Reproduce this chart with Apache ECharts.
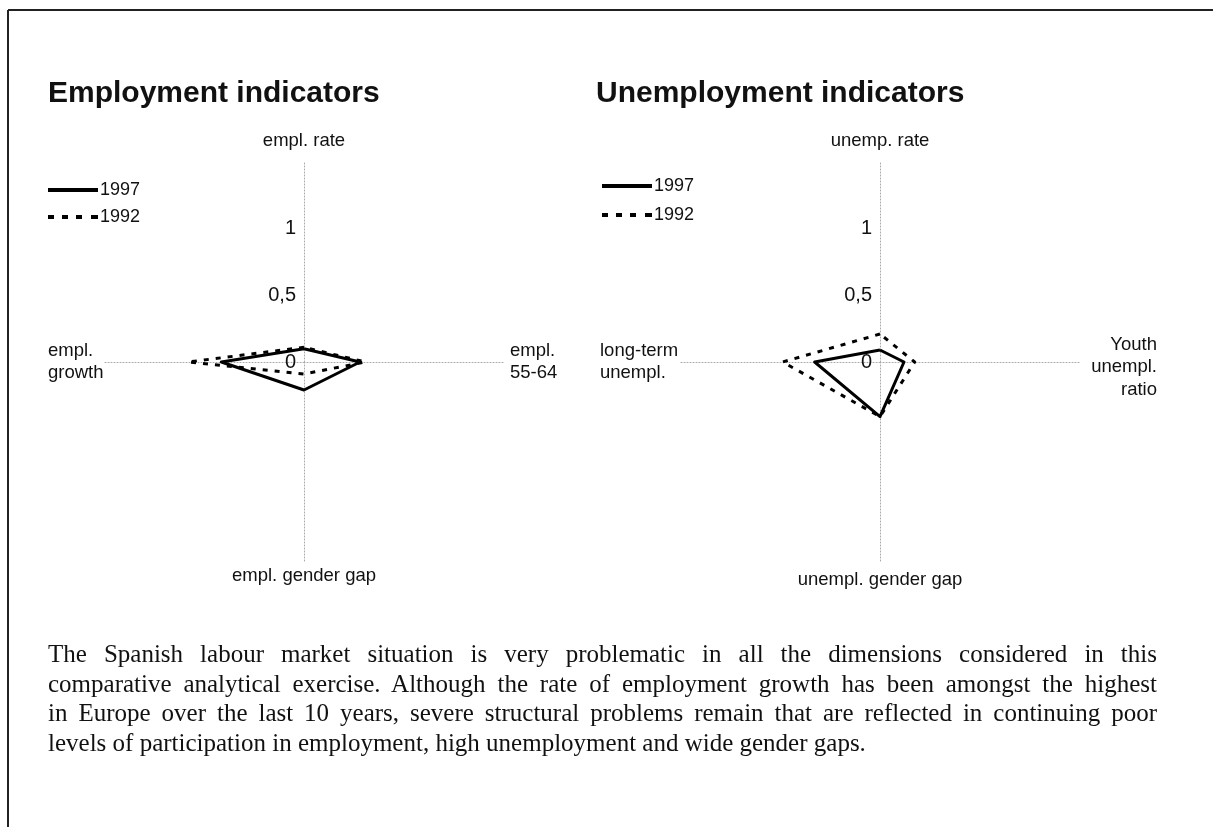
<!DOCTYPE html>
<html>
<head>
<meta charset="utf-8">
<script src="https://cdn.jsdelivr.net/npm/echarts@6/dist/echarts.min.js"></script>
<style>
  html, body { margin: 0; padding: 0; background: #fff; }
  #chart { position: absolute; left: 0; top: 0; width: 1213px; height: 827px; }
  #para {
    position: absolute; left: 48px; top: 639px; width: 1109px;
    font-family: "Liberation Serif", "Times New Roman", serif;
    font-size: 25px; line-height: 29.5px; color: #111;
  }
  #para div { text-align: justify; text-align-last: justify; white-space: nowrap; }
  #para div.last { text-align: left; text-align-last: left; }
</style>
</head>
<body>
<div id="chart"></div>
<div id="para"></div>
<script>
// ---------- data ----------
const chartTitles = ['Employment indicators', 'Unemployment indicators'];
const seriesNames = ['1997', '1992'];
// indicator order: top, left, bottom, right (ECharts radar runs counter-clockwise from the top)
const empIndicators = ['empl. rate', 'empl.\ngrowth', 'empl. gender gap', 'empl.\n55-64'];
const empValues1997 = [0.10, 0.62, 0.21, 0.42];
const empValues1992 = [0.11, 0.87, 0.09, 0.46];
const unempIndicators = ['unemp. rate', 'long-term\nunempl.', 'unempl. gender gap', 'Youth\nunempl.\nratio'];
const unempValues1997 = [0.09, 0.49, 0.41, 0.18];
const unempValues1992 = [0.21, 0.73, 0.41, 0.26];
const tickValues = [0, 0.5, 1, 1.5];
const tickLabels = ['0', '0,5', '1', ''];
const axisMax = 1.5;
const paragraphLines = [
  'The Spanish labour market situation is very problematic in all the dimensions considered in this',
  'comparative analytical exercise. Although the rate of employment growth has been amongst the highest',
  'in Europe over the last 10 years, severe structural problems remain that are reflected in continuing poor',
  'levels of participation in employment, high unemployment and wide gender gaps.'
];

// ---------- layout ----------
const SANS = '"Liberation Sans", Arial, Helvetica, sans-serif';
const centers = [[304, 362], [880, 362]];
const RADIUS = 200;
// positions of the indicator names (x, y, align)
const nameLayout = [
  [[304, 141, 'center'], [48, 362, 'left'], [304, 576, 'center'], [510, 362, 'left']],
  [[880, 141, 'center'], [600, 362, 'left'], [880, 580, 'center'], [1157, 367, 'right']]
];

// paragraph (real text, line breaks as in the source)
const para = document.getElementById('para');
paragraphLines.forEach((t, i) => {
  const d = document.createElement('div');
  d.textContent = t;
  if (i === paragraphLines.length - 1) d.className = 'last';
  para.appendChild(d);
});

const chart = echarts.init(document.getElementById('chart'), null, { renderer: 'canvas' });

function makeRadar(center, names) {
  return {
    center: center,
    radius: RADIUS,
    startAngle: 90,
    shape: 'polygon',
    splitNumber: 3,
    indicator: names.map((n, i) => {
      const ind = { name: n, min: 0, max: axisMax };
      if (i === 0) ind.axisLabel = { show: true };
      return ind;
    }),
    axisName: { show: false },
    splitLine: { show: false },
    splitArea: { show: false },
    axisTick: { show: false },
    axisLine: { show: true, lineStyle: { color: '#a8a8a8', width: 1, type: [1, 2] } },
    axisLabel: {
      show: false,
      margin: 8,
      fontSize: 20,
      fontFamily: SANS,
      color: '#111',
      formatter: function (v) {
        const k = tickValues.findIndex(t => Math.abs(t - v) < 1e-9);
        return k >= 0 ? tickLabels[k] : '';
      }
    }
  };
}

function makeSeries(radarIndex, v1997, v1992) {
  return {
    type: 'radar',
    radarIndex: radarIndex,
    symbol: 'none',
    silent: true,
    itemStyle: { color: '#000' },
    lineStyle: { color: '#000', width: 3 },
    data: [
      { name: seriesNames[0], value: v1997, lineStyle: { type: 'solid', width: 3, color: '#000' } },
      { name: seriesNames[1], value: v1992, lineStyle: { type: [5, 7], width: 3, color: '#000' } }
    ]
  };
}

const solidIcon = 'path://M0,0H50V4H0Z';
const dashIcon = 'path://M0,0H6V4H0Z M14,0H20V4H14Z M28,0H34V4H28Z M43,0H50V4H43Z';

function makeLegend(left, top, gap) {
  return {
    left: left, top: top, orient: 'vertical', padding: 0,
    itemWidth: 50, itemHeight: 4, itemGap: gap,
    selectedMode: false,
    textStyle: { fontSize: 18, fontFamily: SANS, color: '#111', padding: [0, 0, 0, -3] },
    data: [
      { name: seriesNames[0], icon: solidIcon },
      { name: seriesNames[1], icon: dashIcon }
    ]
  };
}

const graphics = [
  { type: 'line', shape: { x1: 8, y1: 10, x2: 1213, y2: 10 }, style: { stroke: '#222', lineWidth: 2 } },
  { type: 'line', shape: { x1: 8, y1: 10, x2: 8, y2: 827 }, style: { stroke: '#222', lineWidth: 2 } }
];
[empIndicators, unempIndicators].forEach((names, c) => {
  names.forEach((n, i) => {
    const p = nameLayout[c][i];
    graphics.push({
      type: 'text', x: p[0], y: p[1],
      style: {
        text: n, fill: '#111', font: '18.5px ' + SANS,
        align: p[2], verticalAlign: 'middle', lineHeight: 22.5
      }
    });
  });
});

chart.setOption({
  animation: false,
  backgroundColor: '#fff',
  title: [
    { text: chartTitles[0], left: 48, top: 79, padding: 0, textStyle: { fontSize: 30, fontWeight: 'bold', fontFamily: SANS, color: '#111' } },
    { text: chartTitles[1], left: 596, top: 79, padding: 0, textStyle: { fontSize: 30, fontWeight: 'bold', fontFamily: SANS, color: '#111' } }
  ],
  legend: [makeLegend(48, 181, 9), makeLegend(602, 177, 11)],
  radar: [makeRadar(centers[0], empIndicators), makeRadar(centers[1], unempIndicators)],
  series: [makeSeries(0, empValues1997, empValues1992), makeSeries(1, unempValues1997, unempValues1992)],
  graphic: graphics
});
</script>
</body>
</html>
